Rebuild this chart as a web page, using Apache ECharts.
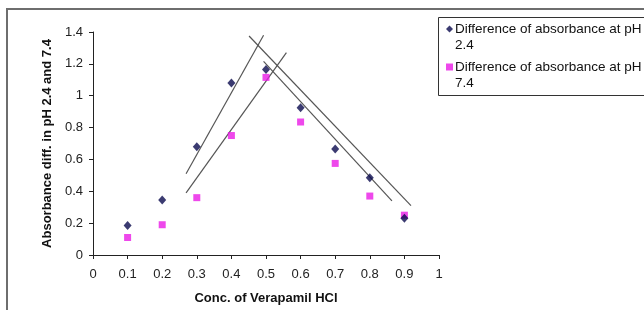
<!DOCTYPE html>
<html>
<head>
<meta charset="utf-8">
<script src="https://cdn.jsdelivr.net/npm/echarts@6/dist/echarts.min.js"></script>
<style>
  html, body { margin: 0; padding: 0; background: #fff; overflow: hidden; }
  #chart { width: 644px; height: 310px; }
</style>
</head>
<body>
<div id="chart"></div>
<script>
// concentrations (x) and the two absorbance-difference series
const conc = [0.1, 0.2, 0.3, 0.4, 0.5, 0.6, 0.7, 0.8, 0.9];
const diffPH24 = [0.185, 0.345, 0.68, 1.08, 1.165, 0.925, 0.665, 0.485, 0.23];
const diffPH74 = [0.11, 0.19, 0.36, 0.75, 1.115, 0.835, 0.575, 0.37, 0.25];

// hand-drawn trend lines, [x, y] end points in data units
const trendUpOuter = [[0.269, 0.51], [0.493, 1.38]];
const trendUpInner = [[0.269, 0.39], [0.559, 1.27]];
const trendDownOuter = [[0.451, 1.375], [0.919, 0.31]];
const trendDownInner = [[0.493, 1.215], [0.864, 0.34]];

const seriesNames = ['Difference of absorbance at pH 2.4', 'Difference of absorbance at pH 7.4'];

const chart = echarts.init(document.getElementById('chart'));

const pairs = (ys) => conc.map((x, i) => [x, ys[i]]);

const trendLine = (pts) => ({
  type: 'line',
  data: pts,
  symbol: 'none',
  silent: true,
  lineStyle: { color: '#555', width: 1.2 },
  z: 1
});

chart.setOption({
  animation: false,
  textStyle: { fontFamily: 'Arial, "Liberation Sans", sans-serif' },
  grid: { left: 93, right: 205, top: 32, bottom: 55 },
  graphic: [
    {
      type: 'rect',
      shape: { x: 7, y: 9, width: 900, height: 500 },
      style: { fill: 'none', stroke: '#6e6e6e', lineWidth: 2 },
      silent: true
    },
    {
      type: 'rect',
      shape: { x: 438.5, y: 17.5, width: 400, height: 78 },
      style: { fill: '#fff', stroke: '#333', lineWidth: 1 },
      silent: true,
      z: 0
    }
  ],
  legend: {
    orient: 'vertical',
    left: 446,
    top: 5,
    padding: 0,
    itemGap: -10,
    itemWidth: 7,
    itemHeight: 7,
    data: [
      { name: seriesNames[0], icon: 'diamond' },
      { name: seriesNames[1], icon: 'rect' }
    ],
    formatter: (name) => '\n' + name.replace(/ (\d\.\d)$/, '\n$1'),
    textStyle: { fontSize: 13.5, color: '#111', lineHeight: 16, padding: [0, 0, 0, -3] },
    z: 5
  },
  xAxis: {
    type: 'value',
    min: 0,
    max: 1,
    interval: 0.1,
    name: 'Conc. of Verapamil HCl',
    nameLocation: 'middle',
    nameGap: 37,
    nameTextStyle: { fontSize: 13, fontWeight: 'bold', color: '#111' },
    splitLine: { show: false },
    axisLine: { onZero: false, lineStyle: { color: '#222', width: 1 } },
    axisTick: { show: true, length: 4, lineStyle: { color: '#222' } },
    axisLabel: { fontSize: 13, color: '#222', margin: 13, showMinLabel: true, showMaxLabel: true }
  },
  yAxis: {
    type: 'value',
    min: 0,
    max: 1.4,
    interval: 0.2,
    name: 'Absorbance diff. in pH 2.4 and 7.4',
    nameLocation: 'middle',
    nameGap: 37,
    nameTextStyle: { fontSize: 13, fontWeight: 'bold', color: '#111' },
    splitLine: { show: false },
    axisLine: { show: true, lineStyle: { color: '#222', width: 1 } },
    axisTick: { show: true, length: 4, lineStyle: { color: '#222' } },
    axisLabel: { fontSize: 13, color: '#222', margin: 10 }
  },
  series: [
    trendLine(trendUpOuter),
    trendLine(trendUpInner),
    trendLine(trendDownOuter),
    trendLine(trendDownInner),
    {
      name: seriesNames[0],
      type: 'scatter',
      data: pairs(diffPH24),
      symbol: 'diamond',
      symbolSize: [8, 9],
      itemStyle: { color: '#0a0a4e' },
      z: 4
    },
    {
      name: seriesNames[1],
      type: 'scatter',
      data: pairs(diffPH74),
      symbol: 'rect',
      symbolSize: 7,
      itemStyle: { color: '#ea1ae6' },
      z: 3
    }
  ]
});
</script>
</body>
</html>
